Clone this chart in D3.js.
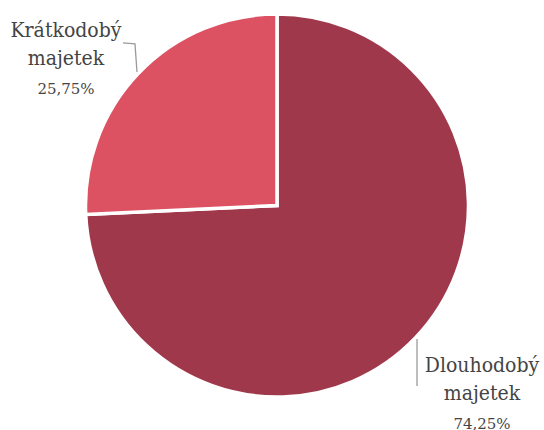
<!DOCTYPE html>
<html>
<head>
<meta charset="utf-8">
<script src="https://cdn.jsdelivr.net/npm/d3@7"></script>
<style>
  html, body { margin: 0; padding: 0; background: #fff; }
  svg { display: block; }
</style>
</head>
<body>
<svg id="chart" width="544" height="430"></svg>
<script>
// Struktura majetku
const categories = ["Dlouhodobý majetek", "Krátkodobý majetek"];
const labelLines = [["Dlouhodobý", "majetek"], ["Krátkodobý", "majetek"]];
const values = [74.25, 25.75];
const valueLabels = ["74,25%", "25,75%"];
const colors = ["#A0384C", "#DC5263"];

const W = 544, H = 430;
const cx = 277, cy = 205.5, R = 191.5;
const svg = d3.select("#chart");
const g = svg.append("g").attr("transform", `translate(${cx},${cy})`);

const pie = d3.pie().sort(null).value(d => d.value);
const arcs = pie(categories.map((c, i) => ({ name: c, value: values[i], i })));
const arc = d3.arc().innerRadius(0).outerRadius(R);

g.selectAll("path.slice")
  .data(arcs)
  .join("path")
  .attr("class", "slice")
  .attr("d", arc)
  .attr("fill", d => colors[d.data.i])
  .attr("stroke", "#fff")
  .attr("stroke-width", 3.5)
  .attr("stroke-linejoin", "miter");

// leader lines start at each slice's mid angle on the rim
const rimPoint = (d, r) => {
  const a = (d.startAngle + d.endAngle) / 2;
  return [Math.sin(a) * r, -Math.cos(a) * r];
};

const font = "'DejaVu Serif', serif";
arcs.forEach(d => {
  const i = d.data.i;
  const [x0, y0] = rimPoint(d, R + 2);
  const up = y0 < 0;
  let pts, tx, ty;
  if (up) {
    pts = [[x0, y0], [x0 - 2, y0 - 28], [x0 - 14, y0 - 29]];
    tx = x0 - 71; ty = y0 - 35;
  } else {
    pts = [[x0, y0], [x0, y0 + 47]];
    tx = x0 + 65; ty = y0 + 33;
  }
  g.append("path")
    .attr("d", d3.line()(pts))
    .attr("fill", "none")
    .attr("stroke", "#9a9a9a")
    .attr("stroke-width", 1.3);

  const t = g.append("text")
    .attr("text-anchor", "middle")
    .attr("fill", "#444")
    .attr("font-family", font);
  labelLines[i].forEach((line, k) => {
    t.append("tspan")
      .attr("x", tx)
      .attr("y", ty + k * 28)
      .attr("font-size", 21)
      .attr("font-stretch", "condensed")
      .text(line);
  });
  t.append("tspan")
    .attr("x", tx)
    .attr("y", ty + 2 * 28 + 1)
    .attr("font-size", 15)
    .text(valueLabels[i]);
});
</script>
</body>
</html>
